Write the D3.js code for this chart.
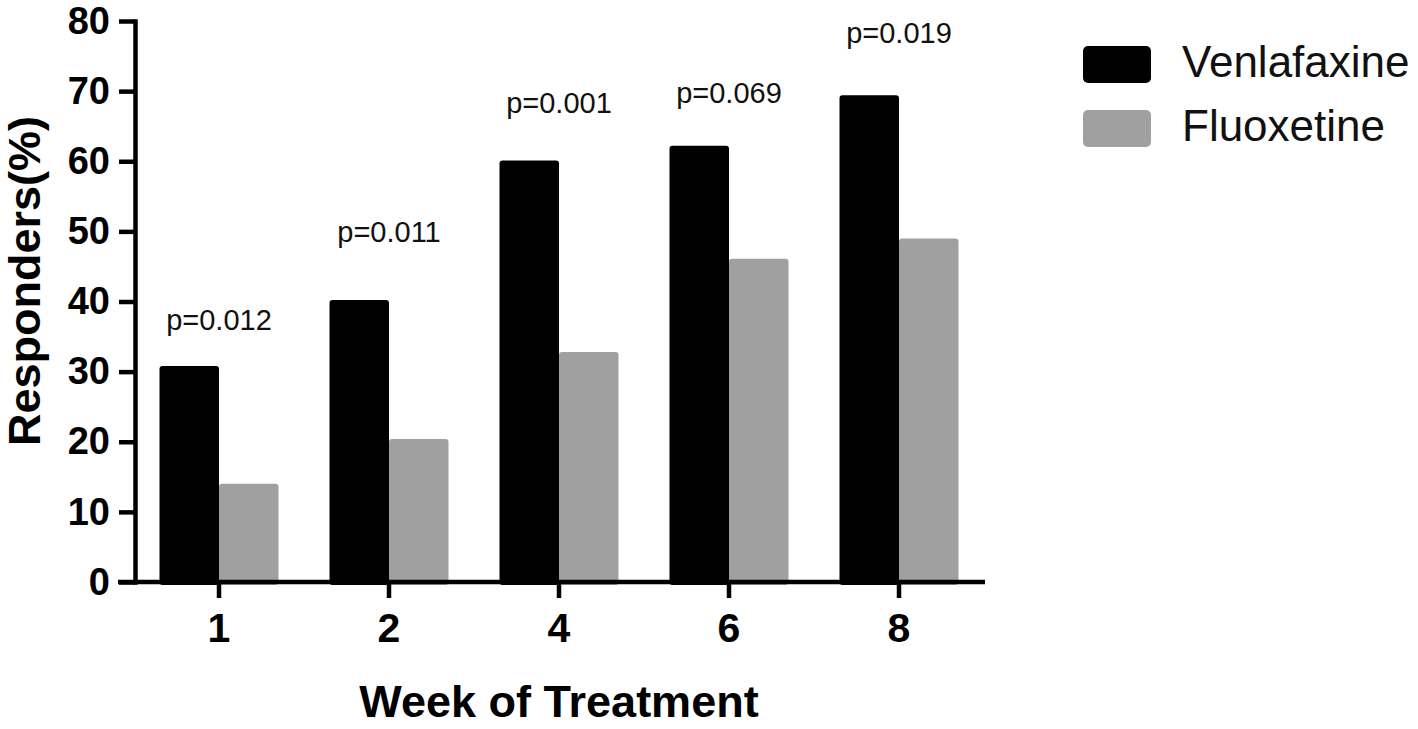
<!DOCTYPE html>
<html>
<head>
<meta charset="utf-8">
<script src="https://cdn.jsdelivr.net/npm/d3@7"></script>
<style>
  html, body { margin: 0; padding: 0; background: #fff; }
  svg { display: block; font-family: "Liberation Sans", Arial, sans-serif; }
</style>
</head>
<body>
<svg id="chart" width="1418" height="729"></svg>
<script>
// ---- data ----
const weeks = ["1", "2", "4", "6", "8"];
const seriesNames = ["Venlafaxine", "Fluoxetine"];
const venlafaxine = [30.8, 40.2, 60.1, 62.2, 69.4];
const fluoxetine = [14.0, 20.4, 32.8, 46.1, 49.0];
const pValueLabels = ["p=0.012", "p=0.011", "p=0.001", "p=0.069", "p=0.019"];
const pLabelLevel = [35.9, 48.5, 66.9, 68.3, 76.9]; // annotation height in % units
const yTickValues = [0, 10, 20, 30, 40, 50, 60, 70, 80];
const seriesColors = ["#000000", "#a0a0a0"];

// ---- scales ----
const svg = d3.select("#chart");
const y = d3.scaleLinear().domain([0, 80]).range([582, 21]);
const x = d3.scaleBand().domain(weeks).range([134, 984]).paddingInner(0.3).paddingOuter(0.15);
const xs = d3.scaleBand().domain(seriesNames).range([0, x.bandwidth()]);
const color = d3.scaleOrdinal().domain(seriesNames).range(seriesColors);

const rows = weeks.map((w, i) => ({
  week: w,
  values: [
    { name: seriesNames[0], value: venlafaxine[i] },
    { name: seriesNames[1], value: fluoxetine[i] }
  ],
  p: pValueLabels[i],
  pLevel: pLabelLevel[i]
}));

const axisX = 135;

// ---- bars ----
const groups = svg.append("g").selectAll("g")
  .data(rows).join("g")
  .attr("transform", d => `translate(${x(d.week)},0)`);

groups.selectAll("rect")
  .data(d => d.values).join("rect")
  .attr("x", d => xs(d.name))
  .attr("y", d => y(d.value))
  .attr("width", xs.bandwidth())
  .attr("height", d => y(0) - y(d.value) + 3)
  .attr("rx", 3)
  .attr("fill", d => color(d.name));

// ---- p-value labels ----
svg.append("g").selectAll("text")
  .data(rows).join("text")
  .attr("x", d => x(d.week) + x.bandwidth() / 2)
  .attr("y", d => y(d.pLevel))
  .attr("text-anchor", "middle")
  .attr("font-size", 29)
  .attr("fill", "#111")
  .text(d => d.p);

// ---- y axis ----
const yAxis = svg.append("g")
  .attr("transform", `translate(${axisX},0)`)
  .call(d3.axisLeft(y).tickValues(yTickValues).tickSize(16).tickSizeOuter(0).tickPadding(9));
yAxis.select(".domain").attr("stroke", "#000").attr("stroke-width", 4.5).attr("stroke-linecap", "square");
yAxis.selectAll(".tick line").attr("stroke", "#000").attr("stroke-width", 4.5);
yAxis.selectAll(".tick text")
  .attr("font-size", 38).attr("font-weight", "bold").attr("fill", "#000")
  .attr("font-family", "'Liberation Sans', Arial, sans-serif");

// ---- x axis ----
const xAxis = svg.append("g")
  .attr("transform", `translate(0,${y(0)})`)
  .call(d3.axisBottom(x).tickSize(16).tickSizeOuter(0).tickPadding(15));
xAxis.select(".domain").remove();
xAxis.selectAll(".tick line").attr("stroke", "#000").attr("stroke-width", 4.5);
xAxis.selectAll(".tick text")
  .attr("font-size", 41).attr("font-weight", "bold").attr("fill", "#000")
  .attr("font-family", "'Liberation Sans', Arial, sans-serif");
xAxis.append("line")
  .attr("x1", axisX - 17).attr("x2", x.range()[1] + 1)
  .attr("y1", 0).attr("y2", 0)
  .attr("stroke", "#000").attr("stroke-width", 4.5);

// ---- axis titles ----
svg.append("text")
  .attr("x", (x.range()[0] + x.range()[1]) / 2)
  .attr("y", 717)
  .attr("text-anchor", "middle")
  .attr("font-size", 45).attr("font-weight", "bold")
  .text("Week of Treatment");

svg.append("text")
  .attr("transform", "rotate(-90)")
  .attr("x", -281)
  .attr("y", 40)
  .attr("text-anchor", "middle")
  .attr("font-size", 45).attr("font-weight", "bold")
  .text("Responders(%)");

// ---- legend ----
const legend = svg.append("g").selectAll("g")
  .data(seriesNames).join("g")
  .attr("transform", (d, i) => `translate(1083,${46 + i * 64})`);
legend.append("rect")
  .attr("width", 68).attr("height", 37).attr("rx", 5)
  .attr("fill", d => color(d));
legend.append("text")
  .attr("x", 99).attr("y", 31)
  .attr("font-size", 44)
  .attr("fill", "#111")
  .text(d => d);
</script>
</body>
</html>
